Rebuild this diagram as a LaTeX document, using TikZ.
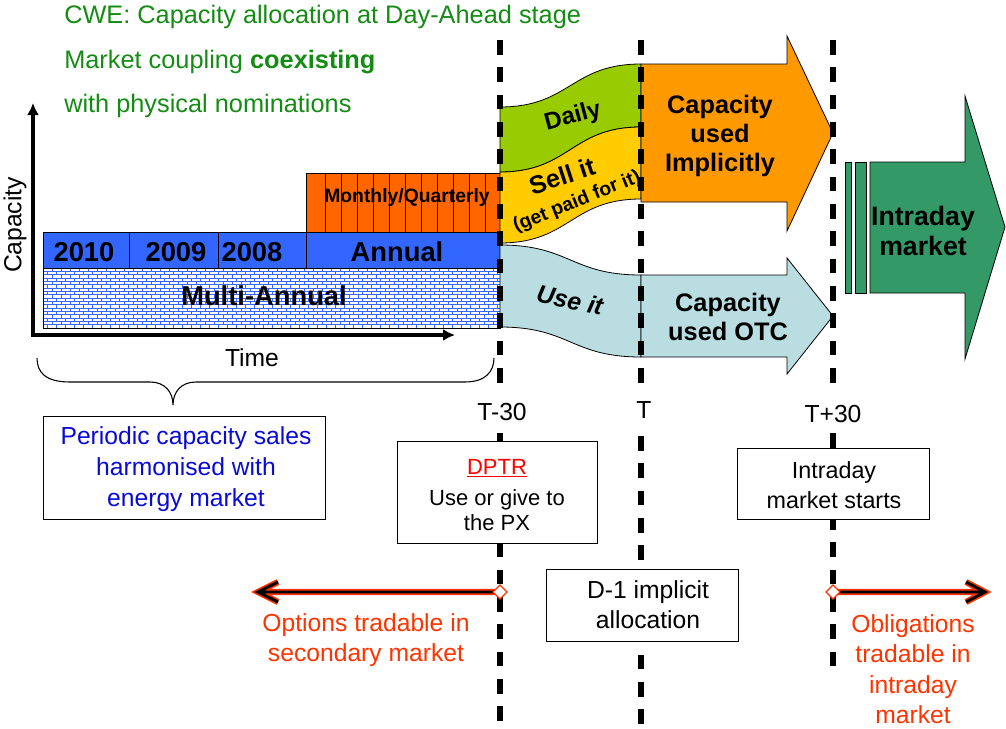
\documentclass[tikz,border=0pt]{standalone}
\usepackage{fontspec}
\setmainfont{Liberation Sans}
\usetikzlibrary{arrows.meta}
\definecolor{ttl}{RGB}{20,140,20}
\definecolor{ann}{HTML}{3366FF}
\definecolor{mq}{HTML}{FF6600}
\definecolor{daily}{HTML}{99CC00}
\definecolor{sell}{HTML}{FFCC00}
\definecolor{impl}{HTML}{FF9900}
\definecolor{ltb}{HTML}{B9DDE1}
\definecolor{intra}{HTML}{339966}
\definecolor{bluetxt}{RGB}{10,10,215}
\definecolor{redtxt}{HTML}{FF3300}
\begin{document}
\begin{tikzpicture}[x=0.75pt,y=-0.75pt,
  shp/.style={draw=black, line width=0.6pt},
  tline/.style={line width=3.9pt, dash pattern=on 11pt off 9.5pt},
  lbl/.style={font=\fontsize{18.5}{23}\selectfont, inner sep=0pt, align=center},
  bl/.style={font=\bfseries\fontsize{19}{22}\selectfont, inner sep=0pt, align=center},
  bx/.style={draw=black, line width=0.6pt, fill=white},
  brk/.style={draw=ann, line width=0.6pt},
  axis/.style={line width=3pt, -{Latex[length=9pt,width=9pt]}},
  redl/.style={draw=redtxt, line width=4.6pt, line join=miter},
  blkl/.style={draw=black, line width=2.2pt, line join=miter},
  dmd/.style={draw=redtxt, fill=white, line width=1pt}
]
\useasboundingbox (0,0) rectangle (1006,728);

% titles
\node[lbl, anchor=west, text=ttl, font=\fontsize{19}{23}\selectfont] (t1) at (64,17) {CWE: Capacity allocation at Day-Ahead stage};
\node[lbl, anchor=west, text=ttl, font=\fontsize{19}{23}\selectfont] (t2) at (64,62) {Market coupling \textbf{coexisting}};
\node[lbl, anchor=west, text=ttl, font=\fontsize{19}{23}\selectfont] (t3) at (64,106) {with physical nominations};

% multi-annual brick block
\begin{scope}
\clip (43,268) rectangle (500,328);
\fill[white] (43,268) rectangle (500,328);
\foreach \r in {0,...,18} {
  \pgfmathsetmacro\off{mod(\r,2)*4.5}
  \draw[brk] (43,268+\r*3.33) -- (500,268+\r*3.33);
  \foreach \k in {0,...,51} \draw[brk] (43+\off+\k*9,268+\r*3.33) -- ++(0,3.33);
}
\end{scope}
\draw[shp] (43,268) rectangle (500,328);
\node[bl, font=\bfseries\fontsize{20.5}{23}\selectfont] (multi) at (264,296) {Multi-Annual};

% annual row
\draw[shp, fill=ann] (43,232) rectangle (500,268);
\foreach \x in {129,218,306} \draw[shp] (\x,232) -- (\x,268);
\node[bl, font=\bfseries\fontsize{20.5}{23}\selectfont] (y2010) at (84,252) {2010};
\node[bl, font=\bfseries\fontsize{20.5}{23}\selectfont] (y2009) at (176,252) {2009};
\node[bl, font=\bfseries\fontsize{20.5}{23}\selectfont] (y2008) at (252,252) {2008};
\node[bl, font=\bfseries\fontsize{20.5}{23}\selectfont] (annual) at (397,252) {Annual};

% monthly / quarterly
\draw[shp, fill=mq] (306,173) rectangle (500,232);
\foreach \x in {325,341,...,485} \draw[black, line width=0.4pt] (\x,173) -- (\x,232);
\node[bl, font=\bfseries\fontsize{14.5}{17}\selectfont] (mq) at (407,197) {Monthly/Quarterly};

% bands
\draw[shp, fill=daily] (500,107) .. controls (570,107) and (571,64) .. (641,64) -- (641,127) .. controls (571,127) and (570,172) .. (500,172) -- cycle;
\draw[shp, fill=sell] (500,172) .. controls (570,172) and (571,127) .. (641,127) -- (641,199) .. controls (571,199) and (570,243) .. (500,243) -- cycle;
\draw[shp, fill=ltb] (500,245) .. controls (570,245) and (571,275) .. (641,275) -- (641,357) .. controls (571,357) and (570,327) .. (500,327) -- cycle;
\node[bl, font=\bfseries\fontsize{18}{22}\selectfont, rotate=15] (daily) at (573,117) {Daily};
\node[bl, rotate=18] (sellit) at (562,176) {Sell it};
\node[bl, font=\bfseries\fontsize{14.5}{17}\selectfont, rotate=22] (paid) at (577,202) {(get paid for it)};
\node[bl, font=\bfseries\itshape\fontsize{18.5}{22}\selectfont, rotate=-12] (useit) at (570,300) {Use it};

% big arrows
\draw[shp, fill=impl] (641,64) -- (787,64) -- (787,36) -- (833,133) -- (787,231) -- (787,202) -- (641,202) -- cycle;
\node[bl] (capimpl) at (720,136) {Capacity\\used\\Implicitly};
\draw[shp, fill=ltb] (641,275) -- (787,275) -- (787,258) -- (833,316) -- (787,374) -- (787,357) -- (641,357) -- cycle;
\node[bl] (capotc) at (728,317) {Capacity\\used OTC};
\draw[shp, fill=intra] (845,162) rectangle (851,293);
\draw[shp, fill=intra] (855,162) rectangle (866,293);
\draw[shp, fill=intra] (870,162) -- (965,162) -- (965,96) -- (1005,227) -- (965,359) -- (965,293) -- (870,293) -- cycle;
\node[bl, font=\bfseries\fontsize{20}{23}\selectfont] (intra) at (923,231) {Intraday\\market};

% axes
\coordinate (O) at (33,335);
\coordinate (ytop) at (33,103);
\coordinate (xend) at (455,335);
\draw[axis] (33,337) -- (ytop);
\draw[axis] (31,335) -- (xend);
\node[lbl, rotate=90] (capax) at (15,225) {Capacity};
\node[lbl] (time) at (252,358) {Time};

% brace
\draw[line width=0.8pt] (37,358) .. controls (37,372) and (45,382) .. (70,382) -- (150,382) .. controls (165,382) and (173,392) .. (173,405) .. controls (173,392) and (181,382) .. (196,382) -- (465,382) .. controls (485,382) and (494,372) .. (494,358);

% timelines
\draw[tline] (500,40) -- (500,390);
\draw[tline] (500,433) -- (500,728);
\draw[tline] (641,40) -- (641,390);
\draw[tline] (641,436) -- (641,728);
\draw[tline] (833,40) -- (833,390);
\draw[tline] (833,433) -- (833,670);
\node[lbl] (tm30) at (502,412) {T-30};
\node[lbl] (tt) at (644,410) {T};
\node[lbl] (tp30) at (833,414) {T+30};

% boxes
\draw[bx] (43,416) rectangle (325,519);
\node[lbl, text=bluetxt] (periodic) at (186,469) {Periodic capacity sales\\harmonised with\\energy market};
\draw[bx] (397,441) rectangle (597,543);
\node[lbl, font=\fontsize{16.5}{19}\selectfont] (dptr) at (497,495) {\textcolor{red}{\underline{DPTR}}\\[4pt]Use or give to\\the PX};
\draw[bx] (546,569) rectangle (738,641);
\node[lbl, font=\fontsize{18.5}{22.5}\selectfont] (d1) at (648,605) {D-1 implicit\\allocation};
\draw[bx] (737,448) rectangle (929,519);
\node[lbl, font=\fontsize{17.5}{22.5}\selectfont] (idstart) at (834,485) {Intraday\\market starts};

% bottom arrows
\coordinate (la) at (500,592);
\coordinate (lt) at (258,592);
\coordinate (ra) at (833,592);
\coordinate (rt) at (985,592);
\draw[redl] (la) -- (lt) (278,582) -- (lt) -- (278,602);
\draw[blkl] (la) -- (lt) (278,582) -- (lt) -- (278,602);
\draw[redl] (ra) -- (rt) (966,582) -- (rt) -- (966,602);
\draw[blkl] (ra) -- (rt) (966,582) -- (rt) -- (966,602);
\draw[dmd] (493,592) -- (500,585) -- (507,592) -- (500,599) -- cycle;
\draw[dmd] (826,592) -- (833,585) -- (840,592) -- (833,599) -- cycle;
\node[lbl, text=redtxt] (opt) at (366,640) {Options tradable in\\secondary market};
\node[lbl, text=redtxt, font=\fontsize{18.5}{22.8}\selectfont] (obl) at (913,669) {Obligations\\tradable in\\intraday\\market};
\end{tikzpicture}
\end{document}
